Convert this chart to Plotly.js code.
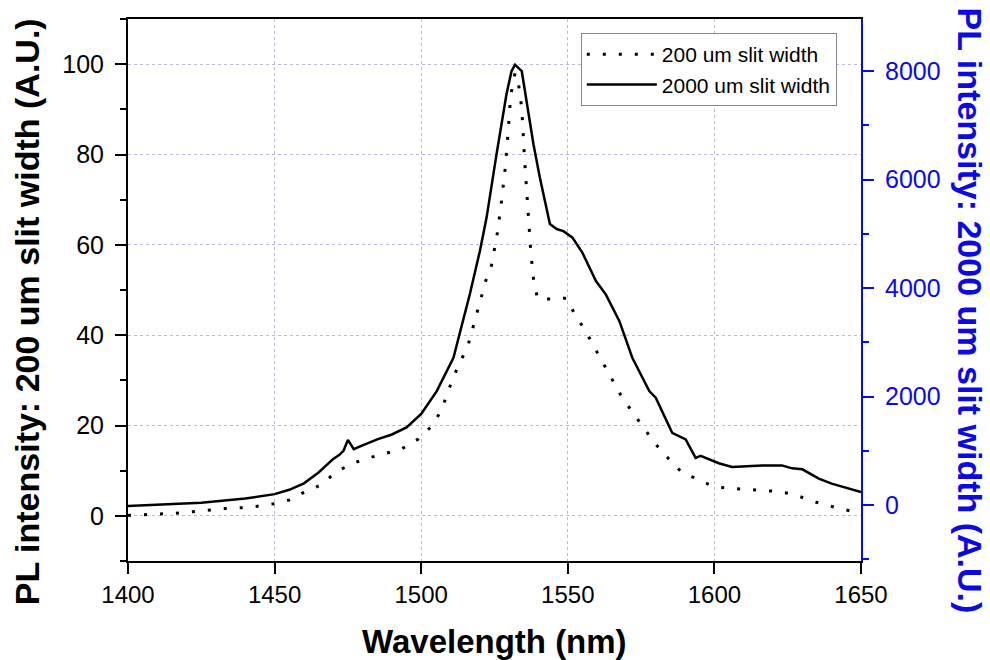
<!DOCTYPE html>
<html>
<head>
<meta charset="utf-8">
<script src="https://cdn.plot.ly/plotly-3.0.1.min.js"></script>
<style>body{margin:0;padding:0;background:#fff;}#chart{width:990px;height:660px;}</style>
</head>
<body>
<div id="chart"></div>
<script>
// 200 um slit width (left axis)
const wl200 = [1400,1411,1417,1422,1428,1433,1439,1444,1450,1455,1460,1466,1471,1477,1482,1493,1499,1504,1507,1511,1516,1519,1522,1524,1526,1527.4,1528.6,1529.5,1530.3,1531,1532,1533.1,1534.3,1535.2,1536.2,1537.4,1538.5,1539.8,1544.5,1549.6,1552.4,1555.9,1558.9,1561.9,1565,1568,1571.8,1575.8,1579.5,1584.3,1589.2,1594.2,1599.6,1605,1610.5,1616.1,1621.4,1626.9,1632.3,1637.9,1643.3,1648.7,1650];
const int200 = [0.1,0.4,0.6,0.9,1.3,1.6,1.8,2.1,2.7,3.5,5.2,6.9,9.8,11.7,12.8,14.7,17,20.1,23.6,30.8,37.8,44.8,52,55.5,62.7,69.7,76.7,83.7,91,95,98,96,90.3,79.6,69,58.2,51.3,48,48,48.2,44.6,41.1,37.5,33.9,30.4,26.8,23.2,19.7,16.2,12.7,9.4,8.2,6.5,6.1,5.9,5.7,5.4,4.8,3.5,2.4,1.5,0.7,0.6];

// 2000 um slit width (right axis)
const wl2000 = [1400,1410,1425,1440,1450,1455,1460,1465,1470,1472,1473.5,1475,1477,1480,1485,1490,1495,1500,1505.3,1511,1516.6,1520,1522.3,1525.7,1529.1,1530.8,1532,1534.3,1536,1538.3,1540.5,1543.9,1546.2,1548.5,1551.6,1555,1559.6,1563,1567.6,1572,1577.8,1580,1585.6,1590.2,1593.6,1595.3,1601.5,1606,1616.3,1623,1626.5,1630,1635.6,1640,1650];
const int2000 = [-20,0,40,120,200,280,400,600,850,920,1000,1200,1030,1100,1210,1300,1430,1680,2100,2715,3890,4680,5300,6470,7580,8000,8120,8000,7450,6650,6030,5180,5090,5050,4930,4650,4130,3880,3390,2715,2100,1980,1330,1210,870,905,770,700,730,730,676,658,485,393,240];

const xTicks = [1400,1450,1500,1550,1600,1650];
const leftTicks = [0,20,40,60,80,100];
const rightTicks = [0,2000,4000,6000,8000];

const BLUE = 'rgb(10,10,225)';
const GRID = 'rgb(185,185,220)';
const FONT = 'Liberation Sans, Arial, sans-serif';

const traces = [
  {x: wl200, y: int200, name: '200 um slit width', mode: 'lines', yaxis: 'y',
   line: {color: 'black', width: 3, dash: '3px,13px'}},
  {x: wl2000, y: int2000, name: '2000 um slit width', mode: 'lines', yaxis: 'y2',
   line: {color: 'black', width: 2.5}}
];

const layout = {
  width: 990, height: 660,
  margin: {l: 128, r: 129, t: 19, b: 99},
  paper_bgcolor: 'white', plot_bgcolor: 'white',
  font: {family: FONT, color: 'black'},
  showlegend: true,
  legend: {x: 0.967, xanchor: 'right', y: 0.974, yanchor: 'top',
           bgcolor: 'white', bordercolor: '#888', borderwidth: 1, itemwidth: 70,
           font: {family: FONT, size: 21, color: 'black'}, tracegroupgap: 0},
  xaxis: {
    range: [1400, 1650], tickvals: xTicks, ticktext: xTicks.map(String),
    ticks: 'outside', ticklen: 11, tickwidth: 2, tickcolor: 'black',
    showline: true, linecolor: 'black', linewidth: 2, mirror: true,
    showgrid: true, gridcolor: GRID, griddash: 'dot', gridwidth: 1,
    zeroline: false,
    tickfont: {family: 'Liberation Sans Narrow, Arial Narrow, ' + FONT, size: 24, color: 'black'}
  },
  yaxis: {
    range: [-10, 110], tickvals: leftTicks, ticktext: leftTicks.map(String),
    ticks: 'outside', ticklen: 11, tickwidth: 2, tickcolor: 'black',
    minor: {tickvals: [-10,10,30,50,70,90,110], ticks: 'outside', ticklen: 6, tickwidth: 2, tickcolor: 'black', showgrid: false},
    showline: true, linecolor: 'black', linewidth: 2, mirror: false,
    showgrid: true, gridcolor: GRID, griddash: 'dot', gridwidth: 1,
    zeroline: false, ticklabelstandoff: 6,
    tickfont: {family: FONT, size: 25, color: 'black'}
  },
  yaxis2: {
    range: [-1033, 8963], overlaying: 'y', side: 'right',
    tickvals: rightTicks, ticktext: rightTicks.map(String),
    ticks: 'outside', ticklen: 11, tickwidth: 2, tickcolor: BLUE,
    minor: {tickvals: [-1000,1000,3000,5000,7000], ticks: 'outside', ticklen: 6, tickwidth: 2, tickcolor: BLUE, showgrid: false},
    showline: true, linecolor: BLUE, linewidth: 2,
    showgrid: false, zeroline: false, ticklabelstandoff: 6,
    tickfont: {family: FONT, size: 25, color: BLUE}
  },
  annotations: [
    {text: '<b>Wavelength (nm)</b>', xref: 'paper', yref: 'paper', x: 0.5, y: 0,
     xanchor: 'center', yanchor: 'middle', yshift: -80, showarrow: false,
     font: {family: FONT, size: 33, color: 'black'}},
    {text: '<b>PL intensity: 200 um slit width (A.U.)</b>', xref: 'paper', yref: 'paper',
     x: 0, y: 0.459, xanchor: 'center', yanchor: 'middle', xshift: -101, textangle: -90,
     showarrow: false, font: {family: FONT, size: 34, color: 'black'}},
    {text: '<b>PL intensity: 2000 um slit width (A.U.)</b>', xref: 'paper', yref: 'paper',
     x: 1, y: 0.462, xanchor: 'center', yanchor: 'middle', xshift: 109, textangle: 90,
     showarrow: false, font: {family: FONT, size: 34, color: BLUE}}
  ]
};

Plotly.newPlot('chart', traces, layout, {displayModeBar: false, staticPlot: true});
</script>
</body>
</html>
